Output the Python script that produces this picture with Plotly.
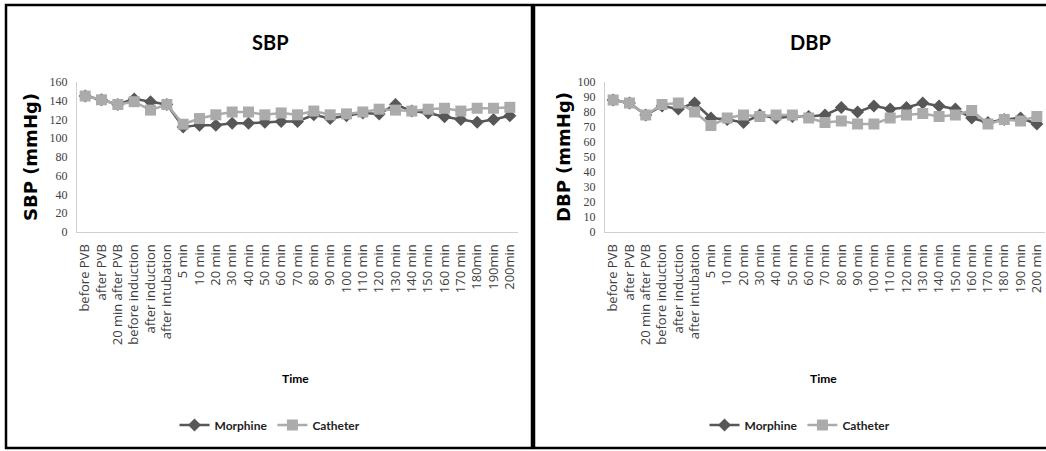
import plotly.graph_objects as go
from plotly.subplots import make_subplots

categories_sbp = ["before PVB", "after PVB", "20 min after PVB", "before induction", "after induction",
                  "after intubation", "5 min", "10 min", "20 min", "30 min", "40 min", "50 min", "60 min",
                  "70 min", "80 min", "90 min", "100 min", "110 min", "120 min", "130 min", "140 min",
                  "150 min", "160 min", "170 min", "180min", "190min", "200min"]
categories_dbp = ["before PVB", "after PVB", "20 min after PVB", "before induction", "after induction",
                  "after intubation", "5 min", "10 min", "20 min", "30 min", "40 min", "50 min", "60 min",
                  "70 min", "80 min", "90 min", "100 min", "110 min", "120 min", "130 min", "140 min",
                  "150 min", "160 min", "170 min", "180 min", "190 min", "200 min"]

sbp_morphine = [145, 141, 136, 142, 139, 136, 112, 114, 114, 116, 116, 117, 118, 118, 125, 121, 124,
                127, 126, 136, 129, 127, 123, 120, 117, 120, 124]
sbp_catheter = [145, 141, 136, 139, 130, 136, 115, 121, 125, 128, 128, 125, 127, 125, 129, 125, 126,
                128, 131, 130, 129, 131, 132, 129, 132, 132, 133]

dbp_morphine = [88, 86, 78, 84, 82, 86, 76, 75, 73, 78, 76, 77, 77, 78, 83, 80, 84, 82, 83, 86, 84,
                82, 76, 73, 75, 76, 72]
dbp_catheter = [88, 86, 78, 85, 86, 80, 71, 76, 78, 77, 78, 78, 76, 73, 74, 72, 72, 76, 78, 79, 77,
                78, 81, 72, 75, 74, 77]

W, H = 1046, 451
C_M = "#575757"
C_C = "#ababab"

fig = make_subplots(rows=1, cols=2)

def add_pair(col, cats, morph, cath, legend):
    idx = list(range(len(cats)))
    fig.add_trace(go.Scatter(x=idx, y=morph, name="Morphine", mode="lines+markers",
                             line=dict(color=C_M, width=2.5),
                             marker=dict(symbol="diamond", size=10, color=C_M),
                             legend=legend), row=1, col=col)
    fig.add_trace(go.Scatter(x=idx, y=cath, name="Catheter", mode="lines+markers",
                             line=dict(color=C_C, width=2.5),
                             marker=dict(symbol="square", size=11, color=C_C),
                             legend=legend), row=1, col=col)

add_pair(1, categories_sbp, sbp_morphine, sbp_catheter, "legend")
add_pair(2, categories_dbp, dbp_morphine, dbp_catheter, "legend2")

ydom = [1 - 232 / H, 1 - 82 / H]
tickfont_y = dict(family="Liberation Serif", size=12, color="#404040")
tickfont_x = dict(family="Open Sans", size=13, color="#404040")

fig.update_xaxes(row=1, col=1, domain=[77 / W, 518 / W])
fig.update_xaxes(row=1, col=2, domain=[605 / W, 1045 / W])
for col, cats in ((1, categories_sbp), (2, categories_dbp)):
    fig.update_xaxes(row=1, col=col, range=[-0.5, len(cats) - 0.5],
                     tickmode="array", tickvals=list(range(len(cats))), ticktext=cats,
                     tickangle=-90, tickfont=tickfont_x, showgrid=False, zeroline=False,
                     showline=True, linecolor="#d0d0d0", linewidth=1, ticks="",
                     ticklabelstandoff=6, automargin=False)
fig.update_yaxes(row=1, col=1, range=[0, 160], dtick=20)
fig.update_yaxes(row=1, col=2, range=[0, 100], dtick=10)
fig.update_yaxes(domain=ydom, tickfont=tickfont_y, showgrid=False, zeroline=False,
                 showline=True, linecolor="#d0d0d0", linewidth=1, ticks="",
                 ticklabelstandoff=6, automargin=False)

bold = "Lato"
def A(text, x, y, font, angle=0):
    return dict(text=text, x=x / W, y=1 - y / H, xref="paper", yref="paper",
                xanchor="center", yanchor="middle", showarrow=False, textangle=angle, font=font)

ann = [
    A("<b>SBP</b>", 270, 42, dict(family=bold, size=20, color="#000")),
    A("<b>DBP</b>", 810, 42, dict(family=bold, size=20, color="#000")),
    A("<b>SBP (mmHg)</b>", 30, 157, dict(family="DejaVu Sans", size=18, color="#000"), -90),
    A("<b>DBP (mmHg)</b>", 563, 157, dict(family="DejaVu Sans", size=18, color="#000"), -90),
    A("<b>Time</b>", 295, 378, dict(family=bold, size=12, color="#000")),
    A("<b>Time</b>", 823, 378, dict(family=bold, size=12, color="#000")),
]

shapes = [
    dict(type="rect", xref="paper", yref="paper", x0=6 / W, x1=532 / W, y0=1 - 448 / H, y1=1 - 5 / H,
         line=dict(color="#000", width=2.5)),
    dict(type="rect", xref="paper", yref="paper", x0=534 / W, x1=1052 / W, y0=1 - 448 / H, y1=1 - 5 / H,
         line=dict(color="#000", width=2.5)),
]

legfont = dict(family=bold, size=12, color="#222", weight="bold")
fig.update_layout(
    width=W, height=H, margin=dict(l=0, r=0, t=0, b=0, pad=0, autoexpand=False),
    paper_bgcolor="white", plot_bgcolor="white",
    annotations=ann, shapes=shapes,
    legend=dict(orientation="h", x=270 / W, xanchor="center", y=1 - 425 / H, yanchor="middle",
                font=legfont, bgcolor="rgba(0,0,0,0)", itemwidth=30),
    legend2=dict(orientation="h", x=800 / W, xanchor="center", y=1 - 425 / H, yanchor="middle",
                 font=legfont, bgcolor="rgba(0,0,0,0)", itemwidth=30),
)

fig.write_html("out.html", config={"displayModeBar": False},
               post_script="document.body.style.margin='0';document.body.style.padding='0';"
                           "document.body.style.overflow='hidden';")
